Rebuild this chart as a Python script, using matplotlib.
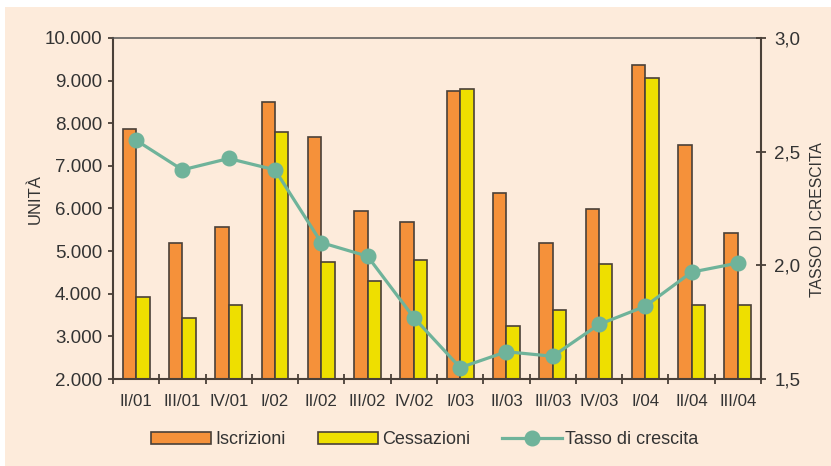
import numpy as np
import matplotlib
matplotlib.use("Agg")
import matplotlib.pyplot as plt
from matplotlib.patches import Patch, Rectangle
from matplotlib.lines import Line2D
from matplotlib.ticker import FuncFormatter, FixedLocator

# data
quarters = ["II/01", "III/01", "IV/01", "I/02", "II/02", "III/02", "IV/02",
            "I/03", "II/03", "III/03", "IV/03", "I/04", "II/04", "III/04"]
iscrizioni = [7870, 5190, 5570, 8500, 7680, 5940, 5680,
              8760, 6360, 5190, 5990, 9370, 7490, 5425]
cessazioni = [3920, 3430, 3740, 7790, 4740, 4300, 4790,
              8800, 3245, 3620, 4700, 9060, 3740, 3740]
tasso = [2.55, 2.42, 2.47, 2.42, 2.10, 2.04, 1.77,
         1.55, 1.62, 1.60, 1.74, 1.82, 1.97, 2.01]

ORANGE = "#F5913A"
YELLOW = "#EEDF00"
TEAL = "#6FB39A"
EDGE = "#4a4038"
BG = "#FDEBDB"
TXT = "#333333"

plt.rcParams["font.family"] = ["Liberation Sans", "DejaVu Sans"]
plt.rcParams["text.color"] = TXT

fig = plt.figure(figsize=(8.31, 4.66), dpi=100, facecolor="white")
fig.patches.append(Rectangle((5 / 831, 0), 1, 1 - 7 / 466, transform=fig.transFigure,
                             facecolor=BG, edgecolor="none", zorder=-10))

ax = fig.add_axes([113 / 831, 1 - 379 / 466, (761 - 113) / 831, (379 - 38) / 466])
ax.set_facecolor("none")

x = np.arange(len(quarters))
w = 0.29
ax.bar(x - w / 2, iscrizioni, w, color=ORANGE, edgecolor=EDGE, linewidth=1.2, zorder=2)
ax.bar(x + w / 2, cessazioni, w, color=YELLOW, edgecolor=EDGE, linewidth=1.2, zorder=2)

ax.set_xlim(-0.5, len(quarters) - 0.5)
ax.set_ylim(2000, 10000)
ax.set_yticks(np.arange(2000, 10001, 1000))
ax.yaxis.set_major_formatter(FuncFormatter(lambda v, p: f"{int(v):,}".replace(",", ".")))

# boundary ticks between quarters, labels centred under each group
ax.xaxis.set_major_locator(FixedLocator(np.arange(-0.5, len(quarters), 1.0)))
ax.xaxis.set_major_formatter(FuncFormatter(lambda v, p: ""))
ax.xaxis.set_minor_locator(FixedLocator(x))
ax.set_xticklabels(quarters, minor=True)
ax.tick_params(axis="x", which="major", direction="inout", length=7, width=1.3, color=EDGE)
ax.tick_params(axis="x", which="minor", length=0, pad=11, labelsize=12.2, labelcolor=TXT)
ax.tick_params(axis="y", direction="out", length=3.8, width=1.3, color=EDGE, pad=4,
               labelsize=13.5, labelcolor=TXT)

for side in ["left", "right", "bottom"]:
    ax.spines[side].set_color(EDGE)
    ax.spines[side].set_linewidth(1.5)
ax.spines["top"].set_color("#555555")
ax.spines["top"].set_linewidth(1.1)

ax.set_ylabel("UNITÀ", fontsize=12, color=TXT)

ax2 = ax.twinx()
ax2.plot(x, tasso, color=TEAL, linewidth=2.3, marker="o", markersize=10.5, zorder=3)
ax2.set_ylim(1.5, 3.0)
ax2.set_yticks([1.5, 2.0, 2.5, 3.0])
ax2.yaxis.set_major_formatter(FuncFormatter(lambda v, p: f"{v:.1f}".replace(".", ",")))
ax2.tick_params(axis="y", direction="inout", length=7, width=1.3, color=EDGE, pad=6,
                labelsize=13.5, labelcolor=TXT)
for sp in ax2.spines.values():
    sp.set_visible(False)
ax2.set_ylabel("TASSO DI CRESCITA", fontsize=11.3, color=TXT)

axh = 379 - 38
ax.yaxis.set_label_coords((35 - 113) / (761 - 113), (379 - 199) / axh)
ax2.yaxis.set_label_coords((818 - 113) / (761 - 113), (379 - 220) / axh)
ax.yaxis.label.set_verticalalignment("center")
ax2.yaxis.label.set_verticalalignment("center")

# legends
bar_handles = [Patch(facecolor=ORANGE, edgecolor=EDGE, linewidth=1.2),
               Patch(facecolor=YELLOW, edgecolor=EDGE, linewidth=1.2)]
fig.legend(bar_handles, ["Iscrizioni", "Cessazioni"], ncol=2, frameon=False,
           loc="center left", bbox_to_anchor=(151 / 831, 26 / 466),
           borderpad=0, borderaxespad=0, handlelength=3.3, handleheight=0.65,
           handletextpad=0.25, columnspacing=1.8, prop={"size": 13})
line_handle = Line2D([], [], color=TEAL, linewidth=2.3, marker="o", markersize=10.5)
fig.legend([line_handle], ["Tasso di crescita"], frameon=False,
           loc="center left", bbox_to_anchor=(502 / 831, 26 / 466),
           borderpad=0, borderaxespad=0, handlelength=3.3, numpoints=1,
           handletextpad=0.2, prop={"size": 13})

fig.savefig("out.png", dpi=100, facecolor=fig.get_facecolor())
